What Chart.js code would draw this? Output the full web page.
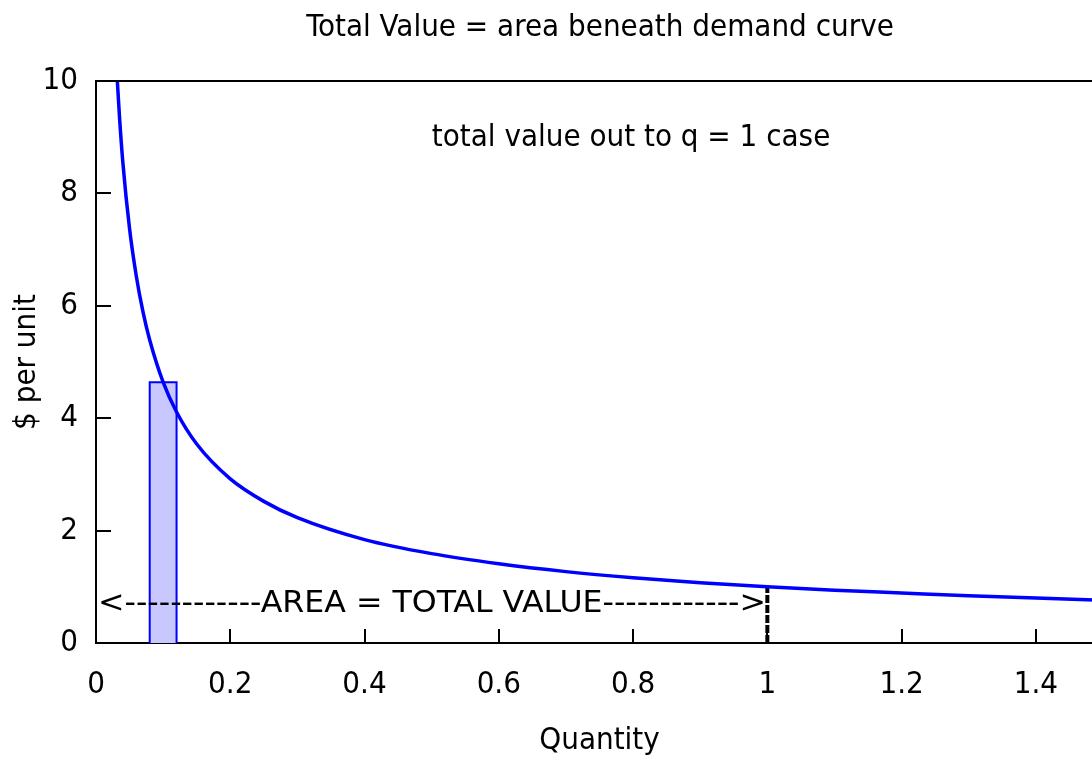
<!DOCTYPE html>
<html>
<head>
<meta charset="utf-8">
<script src="https://cdn.jsdelivr.net/npm/chart.js@4"></script>
<style>
  html, body { margin: 0; padding: 0; background: #fff; overflow: hidden; }
  #wrap { width: 1200px; height: 757px; }
</style>
</head>
<body>
<div id="wrap"><canvas id="chart"></canvas></div>
<script>
// demand curve
var quantity = [0.03, 0.035, 0.04, 0.05, 0.06, 0.07, 0.08, 0.1, 0.12, 0.15, 0.2, 0.25, 0.3, 0.4, 0.5, 0.6, 0.7, 0.8, 0.9, 1.0, 1.1, 1.2, 1.3, 1.4, 1.5];
var price = [10.36, 9.36, 8.55, 7.37, 6.53, 5.89, 5.39, 4.64, 4.11, 3.54, 2.92, 2.52, 2.23, 1.84, 1.59, 1.41, 1.27, 1.16, 1.07, 1.00, 0.94, 0.89, 0.84, 0.80, 0.76];

// the shaded slice
var sliceQ = [0.08, 0.08, 0.12, 0.12];
var sliceP = [0, 4.64, 4.64, 0];

// marker at q = 1
var markQ = [1, 1];
var markP = [0, 1];

var xTicks = [0, 0.2, 0.4, 0.6, 0.8, 1, 1.2, 1.4];
var yTicks = [0, 2, 4, 6, 8, 10];

var FONT = '"DejaVu Sans Condensed", "DejaVu Sans", sans-serif';
var FSIZE = 31;

function pts(xs, ys) {
  return xs.map(function (x, i) { return { x: x, y: ys[i] }; });
}

// inward ticks, frame top line and the text labels
var extras = {
  id: 'extras',
  afterDatasetsDraw: function (chart) {
    var ctx = chart.ctx;
    var a = chart.chartArea;
    var xs = chart.scales.x, ys = chart.scales.y;
    ctx.save();
    ctx.strokeStyle = '#000';
    ctx.lineWidth = 2;
    ctx.beginPath();
    ctx.moveTo(a.left, a.top);
    ctx.lineTo(a.right, a.top);
    ctx.lineTo(a.right, a.bottom);
    xTicks.forEach(function (v) {
      var px = Math.round(xs.getPixelForValue(v));
      ctx.moveTo(px, a.bottom);
      ctx.lineTo(px, a.bottom - 14);
    });
    yTicks.forEach(function (v) {
      var py = Math.round(ys.getPixelForValue(v));
      ctx.moveTo(a.left, py);
      ctx.lineTo(a.left + 15, py);
    });
    ctx.stroke();

    ctx.fillStyle = '#000';
    ctx.font = FSIZE + 'px ' + FONT;
    ctx.textBaseline = 'middle';
    ctx.textAlign = 'center';
    ctx.fillText('total value out to q = 1 case', xs.getPixelForValue(0.797), ys.getPixelForValue(8.98));

    // arrow text, stretched to run from the axis out to q = 1
    var s = '<------------AREA = TOTAL VALUE------------>';
    var x0 = xs.getPixelForValue(0.003), x1 = xs.getPixelForValue(0.998);
    var w = ctx.measureText(s).width;
    ctx.translate(x0, ys.getPixelForValue(0.7));
    ctx.scale((x1 - x0) / w, 1);
    ctx.textAlign = 'left';
    ctx.fillText(s, 0, 0);
    ctx.restore();
  }
};

function fmt(v) { return String(Math.round(v * 10) / 10); }

new Chart(document.getElementById('chart'), {
  type: 'line',
  data: {
    datasets: [
      {
        data: pts(quantity, price),
        borderColor: '#0000ff',
        borderWidth: 3.5,
        cubicInterpolationMode: 'monotone',
        fill: false,
        pointRadius: 0
      },
      {
        data: pts(sliceQ, sliceP),
        borderColor: '#0000ff',
        borderWidth: 2,
        backgroundColor: 'rgba(200, 200, 255, 1)',
        fill: 'origin',
        tension: 0,
        pointRadius: 0
      },
      {
        data: pts(markQ, markP),
        borderColor: '#000',
        borderWidth: 4,
        borderDash: [8, 2],
        fill: false,
        pointRadius: 0
      }
    ]
  },
  options: {
    responsive: true,
    maintainAspectRatio: false,
    animation: false,
    events: [],
    layout: { padding: 0 },
    plugins: {
      legend: { display: false },
      tooltip: { enabled: false },
      title: {
        display: true,
        text: 'Total Value = area beneath demand curve',
        color: '#000',
        font: { family: FONT, size: FSIZE, weight: 'normal' },
        padding: { top: 9, bottom: 34.8 }
      }
    },
    scales: {
      x: {
        type: 'linear',
        min: 0,
        max: 1.5,
        afterFit: function (s) { s.height = 114; },
        ticks: {
          stepSize: 0.2,
          includeBounds: false,
          color: '#000',
          padding: 23,
          maxRotation: 0,
          callback: fmt,
          font: { family: FONT, size: FSIZE }
        },
        grid: { drawOnChartArea: false, drawTicks: false },
        border: { display: true, color: '#000', width: 2 },
        title: {
          display: true,
          text: 'Quantity',
          color: '#000',
          font: { family: FONT, size: FSIZE },
          padding: { top: 0, bottom: -3 }
        }
      },
      y: {
        min: 0,
        max: 10,
        afterFit: function (s) { s.width = 96; },
        ticks: {
          stepSize: 2,
          color: '#000',
          padding: 18,
          callback: fmt,
          font: { family: FONT, size: FSIZE }
        },
        grid: { drawOnChartArea: false, drawTicks: false },
        border: { display: true, color: '#000', width: 2 },
        title: {
          display: true,
          text: '$ per unit',
          color: '#000',
          font: { family: FONT, size: FSIZE },
          padding: { top: 8, bottom: 0 }
        }
      },
      // empty right margin so the plot sits where the original did
      yRight: {
        position: 'right',
        min: 0,
        max: 10,
        afterFit: function (s) { s.width = 97; },
        ticks: { display: false },
        grid: { display: false },
        border: { display: false }
      }
    }
  },
  plugins: [extras]
});
</script>
</body>
</html>
